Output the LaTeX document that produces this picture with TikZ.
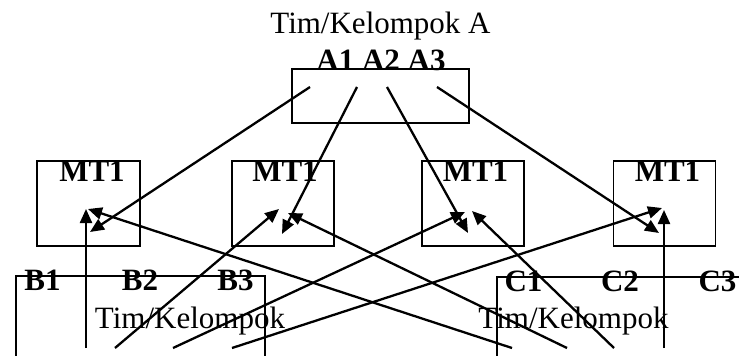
\documentclass[tikz,border=0pt]{standalone}
\usepackage{fontspec}
\setmainfont{Liberation Serif}
\usetikzlibrary{arrows.meta}
\begin{document}
\begin{tikzpicture}[x=1pt,y=-1pt,
  frame/.style={draw=black, line width=1.6pt, inner sep=0pt},
  link/.style={line width=2.3pt, -{Triangle[length=14pt,width=12pt]}},
  txt/.style={font=\fontsize{31}{36}\selectfont, inner sep=0pt, anchor=base},
  btxt/.style={font=\fontsize{31}{36}\selectfont\bfseries, inner sep=0pt, anchor=base}]
\useasboundingbox (0,0) rectangle (739,356);
\clip (0,0) rectangle (739,356);
% boxes
\node[frame, minimum width=177pt, minimum height=54pt] (boxA) at (380.5,96) {};
\node[frame, minimum width=103pt, minimum height=85pt] (mt1) at (88.5,203.5) {};
\node[frame, minimum width=102pt, minimum height=85pt] (mt2) at (283,203.5) {};
\node[frame, minimum width=102pt, minimum height=85pt] (mt3) at (473,203.5) {};
\node[frame, minimum width=102pt, minimum height=85pt] (mt4) at (664.5,203.5) {};
\node[frame, anchor=north west, minimum width=249pt, minimum height=200pt] (teamB) at (15,275) {};
\node[frame, anchor=north west, minimum width=300pt, minimum height=200pt] (teamC) at (496,276) {};
% texts
\node[txt] (tA) at (380.5,33) {Tim/Kelompok A};
\node[btxt] (lA) at (381,70) {A1 A2 A3};
\node[btxt] (l1) at (92,181) {MT1};
\node[btxt] (l2) at (285,181) {MT1};
\node[btxt] (l3) at (475.5,181) {MT1};
\node[btxt] (l4) at (667.5,181) {MT1};
\node[btxt] (b1) at (42.5,290) {B1};
\node[btxt] (b2) at (140,290) {B2};
\node[btxt] (b3) at (235.5,290) {B3};
\node[btxt] (c1) at (523.5,291) {C1};
\node[btxt] (c2) at (620,291) {C2};
\node[btxt] (c3) at (717.5,291) {C3};
\node[txt] (tB) at (190,328) {Tim/Kelompok};
\node[txt] (tC) at (573.5,328) {Tim/Kelompok};
% start points
\coordinate (sa1) at (310,87);
\coordinate (sa2) at (357,87);
\coordinate (sa3) at (387,87);
\coordinate (sa4) at (437,87);
\coordinate (sb1) at (86,348);
\coordinate (sb2) at (115,348);
\coordinate (sb3) at (173,348);
\coordinate (sb4) at (232,348);
\coordinate (sc1) at (512,348);
\coordinate (sc2) at (567,348);
\coordinate (sc3) at (614,348);
\coordinate (sc4) at (664,348);
% tips
\coordinate (t1a) at (90,232);
\coordinate (t1b) at (86,209);
\coordinate (t1c) at (88,209);
\coordinate (t2a) at (282,234);
\coordinate (t2b) at (279,209);
\coordinate (t2c) at (288,213);
\coordinate (t3a) at (468,233);
\coordinate (t3b) at (465,212);
\coordinate (t3c) at (472,211);
\coordinate (t4a) at (659,233);
\coordinate (t4b) at (662,208);
\coordinate (t4c) at (664,210);
% connectors
\draw[link] (sa1) -- (t1a);
\draw[link] (sa2) -- (t2a);
\draw[link] (sa3) -- (t3a);
\draw[link] (sa4) -- (t4a);
\draw[link] (sb1) -- (t1b);
\draw[link] (sb2) -- (t2b);
\draw[link] (sb3) -- (t3b);
\draw[link] (sb4) -- (t4b);
\draw[link] (sc1) -- (t1c);
\draw[link] (sc2) -- (t2c);
\draw[link] (sc3) -- (t3c);
\draw[link] (sc4) -- (t4c);
\end{tikzpicture}
\end{document}
